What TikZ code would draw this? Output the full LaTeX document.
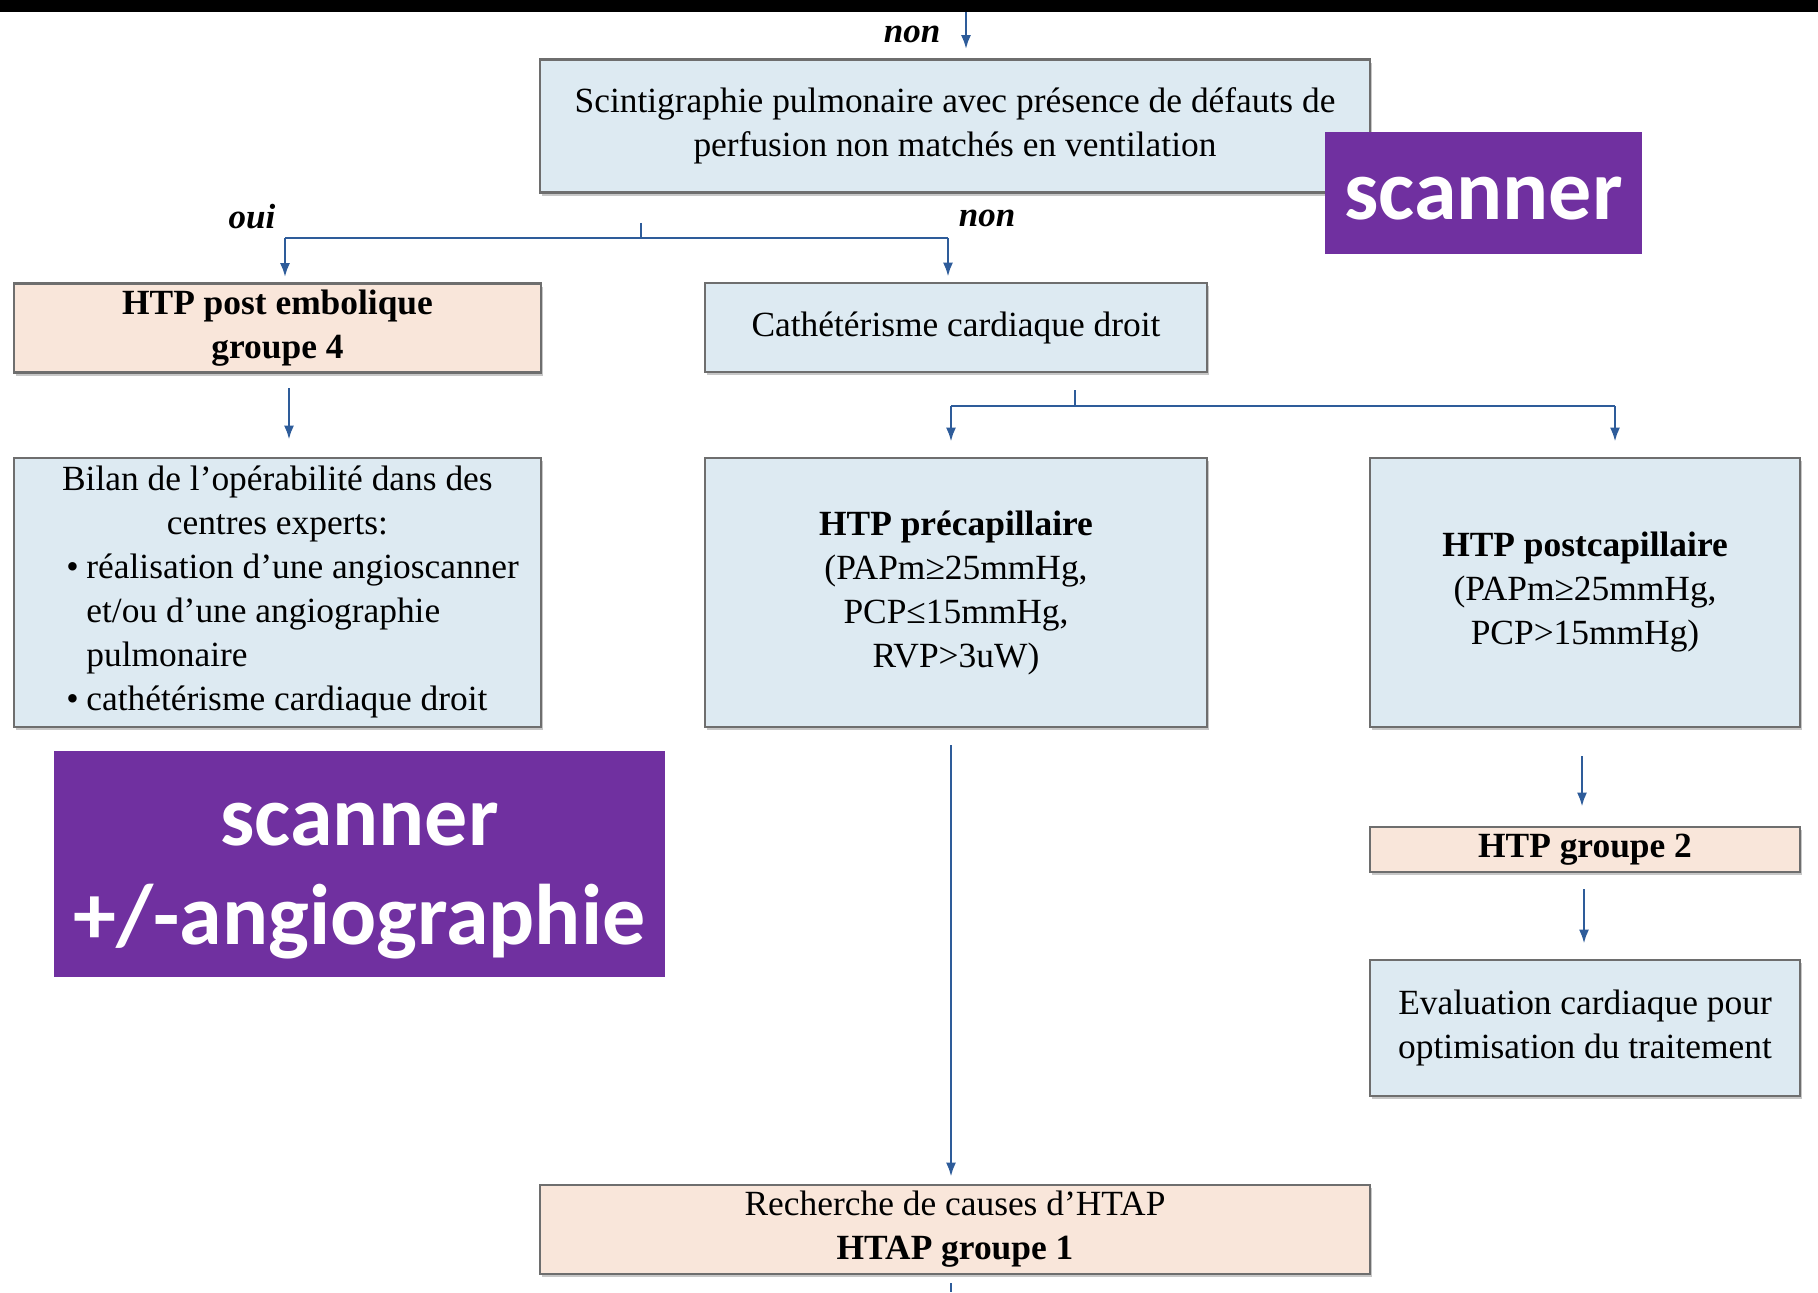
\documentclass[tikz,border=0pt]{standalone}
\usepackage{fontspec}
\setmainfont{Liberation Serif}
\newfontfamily\purplefont{Carlito}
\usetikzlibrary{arrows.meta,shadows}
\definecolor{boxblue}{HTML}{DDEAF2}
\definecolor{boxpeach}{HTML}{F9E6DA}
\definecolor{boxline}{HTML}{6E6E6E}
\definecolor{arrblue}{HTML}{2E5C9A}
\definecolor{violet}{HTML}{7030A0}
\newcommand\bxfont{\fontsize{17.7}{22}\selectfont}
\newcommand\bigfont{\purplefont\bfseries\fontsize{43}{49.5}\selectfont}
\tikzset{
  bx/.style={draw=boxline, line width=1.3pt, inner sep=0pt, align=center, font=\bxfont,
    drop shadow={shadow xshift=1pt, shadow yshift=-1.5pt, fill=gray!55, opacity=0.8}},
  bluebox/.style={bx, fill=boxblue},
  peachbox/.style={bx, fill=boxpeach},
  purplebox/.style={fill=violet, inner sep=0pt},
  purpletext/.style={text=white, inner sep=0pt, align=center, font=\bigfont},
  arr/.style={draw=arrblue, line width=1.3pt, -{Latex[length=7pt,width=5pt]}},
  ln/.style={draw=arrblue, line width=1.3pt},
  lbl/.style={font=\fontsize{17.5}{20}\selectfont\bfseries\itshape, inner sep=0pt}
}
\begin{document}
\begin{tikzpicture}[x=0.5pt,y=-0.5pt]
\useasboundingbox (0,0) rectangle (1818,1292);
\fill[white] (0,0) rectangle (1818,1292);
\fill[black] (0,0) rectangle (1818,12);

% boxes
\node[bluebox, minimum width=415pt, minimum height=66.5pt] (scinti) at (955,126)
  {Scintigraphie pulmonaire avec présence de défauts de\\perfusion non matchés en ventilation};
\node[peachbox, minimum width=263.5pt, minimum height=44.5pt] (htp4) at (277.5,328)
  {\bfseries HTP post embolique\\\bfseries groupe 4};
\node[bluebox, minimum width=251pt, minimum height=44.5pt] (cath) at (956,327.5)
  {Cathétérisme cardiaque droit};
\node[bluebox, minimum width=263.5pt, minimum height=134.5pt] (bilan) at (277.5,592.5) {};
\node[anchor=west, align=left, inner sep=0pt, font=\bxfont] (biltxt) at (66,592)
  {\makebox[211pt][c]{Bilan de l'opérabilité dans des}\\
   \makebox[211pt][c]{centres experts:}\\
   \makebox[10pt][l]{\textbullet}réalisation d'une angioscanner\\
   \hspace*{10pt}et/ou d'une angiographie\\
   \hspace*{10pt}pulmonaire\\
   \makebox[10pt][l]{\textbullet}cathétérisme cardiaque droit};
\node[bluebox, minimum width=251pt, minimum height=134.5pt] (precap) at (956,592.5)
  {\bfseries HTP précapillaire\\(PAPm≥25mmHg,\\PCP≤15mmHg,\\RVP>3uW)};
\node[bluebox, minimum width=215pt, minimum height=134.5pt] (postcap) at (1585,592.5)
  {\bfseries HTP postcapillaire\\(PAPm≥25mmHg,\\PCP>15mmHg)};
\node[peachbox, minimum width=215pt, minimum height=22.5pt] (g2) at (1585,849.5)
  {\bfseries HTP groupe 2};
\node[bluebox, minimum width=215pt, minimum height=68pt] (eval) at (1585,1028)
  {Evaluation cardiaque pour\\optimisation du traitement};
\node[peachbox, minimum width=415pt, minimum height=44.5pt] (rech) at (955,1229.5)
  {Recherche de causes d'HTAP\\\bfseries HTAP groupe 1};

% labels
\node[lbl] (non0) at (912,34) {non};
\node[lbl] (oui1) at (252,217) {oui};
\node[lbl] (non1) at (987,218) {non};

% connectors
\coordinate (top) at (966,12);
\draw[arr, shorten >=4.5pt] (top) -- (top |- scinti.north);

\coordinate (s1) at (641,238);
\coordinate (s1l) at (285,238);
\coordinate (s1r) at (948,238);
\draw[ln, shorten <=14.5pt] (s1 |- scinti.south) -- (s1);
\draw[ln] (s1l) -- (s1r);
\draw[arr, shorten >=2.5pt] (s1l) -- (s1l |- htp4.north);
\draw[arr, shorten >=2.5pt] (s1r) -- (s1r |- cath.north);

\coordinate (s2) at (1075,406);
\coordinate (s2l) at (951,406);
\coordinate (s2r) at (1615,406);
\draw[ln, shorten <=8.5pt] (s2 |- cath.south) -- (s2);
\draw[ln] (s2l) -- (s2r);
\draw[arr, shorten >=7.5pt] (s2l) -- (s2l |- precap.north);
\draw[arr, shorten >=7.5pt] (s2r) -- (s2r |- postcap.north);

\coordinate (a1) at (289,371);
\draw[arr, shorten <=8.5pt, shorten >=8.5pt] (a1) -- (a1 |- bilan.north);

\coordinate (a2) at (951,727);
\draw[arr, shorten <=9pt, shorten >=3.5pt] (a2) -- (a2 |- rech.north);

\coordinate (a3) at (1582,727);
\draw[arr, shorten <=14.5pt, shorten >=9.5pt] (a3) -- (a3 |- g2.north);
\coordinate (a4) at (1584,872);
\draw[arr, shorten <=8.5pt, shorten >=7.5pt] (a4) -- (a4 |- eval.north);

\coordinate (bot) at (951,1292);
\draw[ln, shorten <=4pt] (bot |- rech.south) -- (bot);

% purple overlays
\node[purplebox, minimum width=158.5pt, minimum height=61pt] (scan1) at (1483.5,193) {};
\node[purpletext] (scan1t) at (1483.5,199) {scanner};
\node[purplebox, minimum width=305.5pt, minimum height=113pt] (scan2) at (359.5,864) {};
\node[purpletext] (scan2t) at (359.5,881) {scanner\\+/-angiographie};
\end{tikzpicture}
\end{document}
